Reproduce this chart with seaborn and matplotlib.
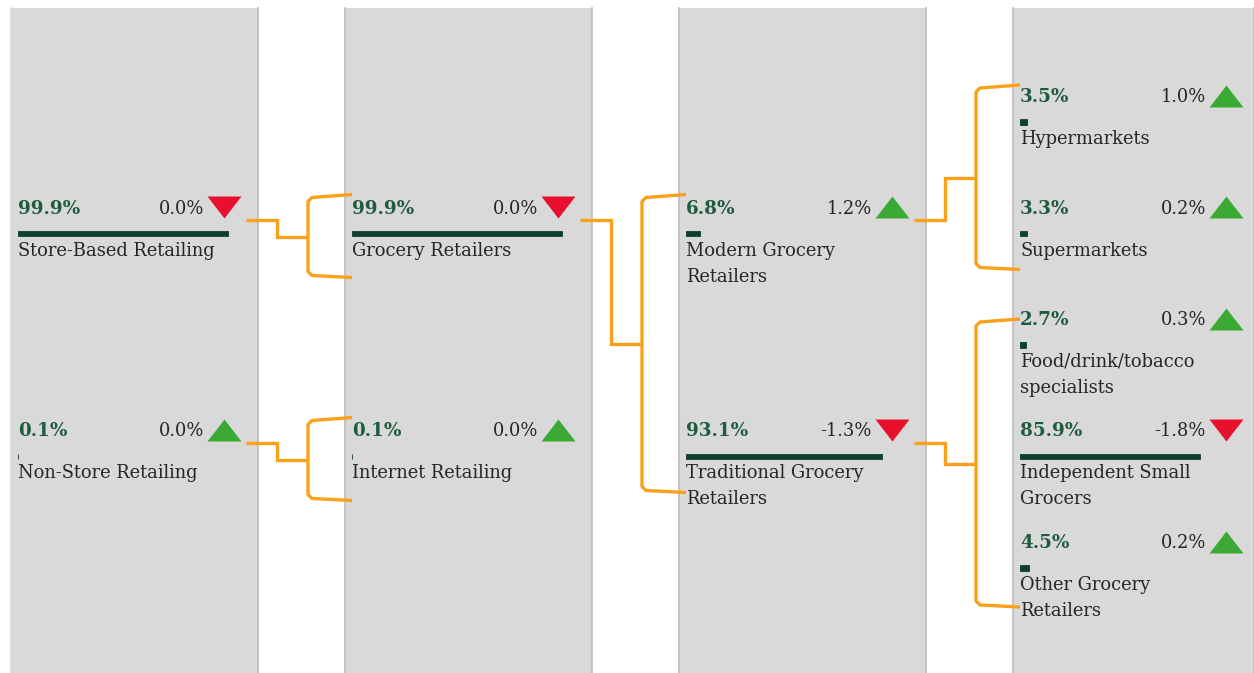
import matplotlib
matplotlib.use("Agg")
import matplotlib.pyplot as plt
from matplotlib.transforms import offset_copy
from matplotlib.path import Path
import seaborn as sns
import pandas as pd

# ---------------- data ----------------
col1_labels = ["Store-Based Retailing", "Non-Store Retailing"]
col1_share = [99.9, 0.1]
col1_growth = [0.0, 0.0]
col1_trend = ["down", "up"]

col2_labels = ["Grocery Retailers", "Internet Retailing"]
col2_share = [99.9, 0.1]
col2_growth = [0.0, 0.0]
col2_trend = ["down", "up"]

col3_labels = ["Modern Grocery\nRetailers", "Traditional Grocery\nRetailers"]
col3_share = [6.8, 93.1]
col3_growth = [1.2, -1.3]
col3_trend = ["up", "down"]

col4_labels = ["Hypermarkets", "Supermarkets", "Food/drink/tobacco\nspecialists",
               "Independent Small\nGrocers", "Other Grocery\nRetailers"]
col4_share = [3.5, 3.3, 2.7, 85.9, 4.5]
col4_growth = [1.0, 0.2, 0.3, -1.8, 0.2]
col4_trend = ["up", "up", "up", "down", "up"]

# parent index (in previous column) of each node
col2_parent = [0, 1]
col3_parent = [0, 0]
col4_parent = [0, 0, 1, 1, 1]

# ---------------- layout ----------------
W, H = 1254, 673
DPI = 100
col_left = [11, 345, 679, 1013]
col_w = 247
top_px = 8
slot_bar0 = 122.0      # bar centre of slot 0 (px)
slot_step = 111.5      # px between slots
px_per_pct = 2.1
bar_inset = 7
slots = [[1, 3], [1, 3], [1, 3], [0, 1, 2, 3, 4]]

GRAY = "#D9D9D9"
EDGE = "#BDBDBD"
BAR = "#0E3F2B"
VAL = "#1F5B3F"
TXT = "#262626"
UP = "#3BAA35"
DOWN = "#E8112D"
ORANGE = "#F9A11B"

sns.set_theme(style="white")
plt.rcParams["font.family"] = ["DejaVu Serif", "DejaVu Sans"]

fig = plt.figure(figsize=(W / DPI, H / DPI), dpi=DPI)

columns = [
    (col1_labels, col1_share, col1_growth, col1_trend),
    (col2_labels, col2_share, col2_growth, col2_trend),
    (col3_labels, col3_share, col3_growth, col3_trend),
    (col4_labels, col4_share, col4_growth, col4_trend),
]
slot_names = [f"s{i}" for i in range(5)]

tri_up = Path([(-17, -11), (17, -11), (0, 11), (-17, -11)],
              [Path.MOVETO, Path.LINETO, Path.LINETO, Path.CLOSEPOLY])
tri_down = Path([(-17, 11), (17, 11), (0, -11), (-17, 11)],
                [Path.MOVETO, Path.LINETO, Path.LINETO, Path.CLOSEPOLY])

FS_VAL = 13.2
FS_TXT = 12.9

for c, (labels, share, growth, trend) in enumerate(columns):
    left = col_left[c]
    width = min(col_w, W - left)
    ax = fig.add_axes([left / W, 0, width / W, (H - top_px) / H])
    ax.set_facecolor(GRAY)
    df = pd.DataFrame({"slot": [slot_names[s] for s in slots[c]], "share": share})
    sns.barplot(data=df, x="share", y="slot", order=slot_names, orient="h",
                width=5.2 / slot_step, color=BAR, saturation=1, errorbar=None,
                linewidth=0.6, edgecolor=BAR, ax=ax)
    ax.set_xlim(-bar_inset / px_per_pct, (width - bar_inset) / px_per_pct)
    ax.set_ylim((H - slot_bar0) / slot_step, (top_px - slot_bar0) / slot_step)
    ax.set(xticks=[], yticks=[], xlabel="", ylabel="")
    for side in ["top", "bottom"]:
        ax.spines[side].set_visible(False)
    ax.spines["right"].set_color(EDGE)
    ax.spines["right"].set_linewidth(1.2)
    ax.spines["left"].set_color(EDGE if c > 0 else GRAY)
    ax.spines["left"].set_linewidth(1.2)

    for i, s in enumerate(slots[c]):
        # value
        ax.text(0, s, f"{share[i]:.1f}%", color=VAL, fontsize=FS_VAL, fontweight="bold",
                ha="left", va="center",
                transform=offset_copy(ax.transData, fig=fig, x=0, y=25, units="dots"))
        # growth
        ax.text(0, s, f"{growth[i]:.1f}%", color=TXT, fontsize=FS_TXT,
                ha="right", va="center",
                transform=offset_copy(ax.transData, fig=fig, x=186, y=25, units="dots"))
        # trend marker
        ax.plot([0], [s], marker=tri_up if trend[i] == "up" else tri_down,
                markersize=34 * 72 / DPI, color=UP if trend[i] == "up" else DOWN,
                markeredgewidth=0, linestyle="none",
                transform=offset_copy(ax.transData, fig=fig, x=205.5, y=26.5, units="dots"))
        # label lines
        for k, line in enumerate(labels[i].split("\n")):
            ax.text(0, s, line, color=TXT, fontsize=FS_TXT, ha="left", va="center",
                    transform=offset_copy(ax.transData, fig=fig, x=0, y=-17 - 26 * k,
                                          units="dots"))

# ---------------- connectors ----------------
ov = fig.add_axes([0, 0, 1, 1], facecolor="none")
ov.set_xlim(0, W)
ov.set_ylim(H, 0)
ov.axis("off")


def value_y(s):
    return slot_bar0 + slot_step * s - 25


parents = [None, col2_parent, col3_parent, col4_parent]
bracket_top_off = {1: [-11, -11], 2: [-11], 3: [-9, 2]}
bracket_bot_off = {1: [67, 67], 2: [59], 3: [59, 62]}
for c in range(1, 4):
    groups = {}
    for i, p in enumerate(parents[c]):
        groups.setdefault(p, []).append(slots[c][i])
    for g, (p, child_slots) in enumerate(sorted(groups.items())):
        src_y = value_y(slots[c - 1][p]) + 11
        x0 = col_left[c - 1] + 235
        x_step = col_left[c - 1] + col_w + 19
        x_br = col_left[c - 1] + col_w + 50
        x_end = col_left[c] + 7
        top = value_y(min(child_slots)) + bracket_top_off[c][g]
        bot = value_y(max(child_slots)) + bracket_bot_off[c][g]
        mid = (top + bot) / 2
        ov.plot([x0, x_step, x_step, x_br], [src_y, src_y, mid, mid],
                color=ORANGE, lw=2.4, solid_joinstyle="miter", solid_capstyle="butt")
        ov.plot([x_end, x_br + 4, x_br, x_br, x_br + 4, x_end],
                [top - 3, top, top + 4, bot - 4, bot, bot + 2],
                color=ORANGE, lw=2.4, solid_joinstyle="round", solid_capstyle="butt")

fig.savefig("out.png", dpi=DPI, facecolor="white")
